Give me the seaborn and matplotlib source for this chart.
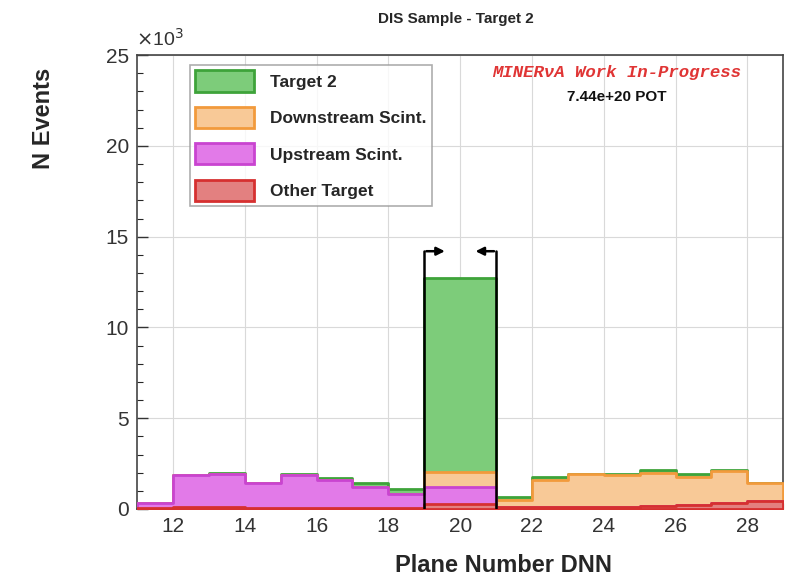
import numpy as np
import pandas as pd
import matplotlib
matplotlib.use("Agg")
import matplotlib.pyplot as plt
from matplotlib.patches import Patch
import seaborn as sns

# ---- data (thousands of events per plane bin) ----
plane_lo = [11, 12, 13, 14, 15, 16, 17, 18, 19, 20, 21, 22, 23, 24, 25, 26, 27, 28]
other_target = [0.05, 0.12, 0.12, 0.08, 0.08, 0.08, 0.06, 0.05, 0.25, 0.25, 0.12, 0.12, 0.12, 0.12, 0.15, 0.22, 0.35, 0.45]
upstream = [0.28, 1.75, 1.78, 1.35, 1.78, 1.52, 1.14, 0.77, 0.95, 0.95, 0.0, 0.0, 0.0, 0.0, 0.0, 0.0, 0.0, 0.0]
downstream = [0.0, 0.0, 0.04, 0.0, 0.0, 0.0, 0.0, 0.0, 0.85, 0.85, 0.38, 1.48, 1.78, 1.76, 1.85, 1.52, 1.72, 0.98]
target2 = [0.02, 0.02, 0.02, 0.02, 0.05, 0.1, 0.23, 0.28, 10.65, 10.65, 0.16, 0.16, 0.05, 0.05, 0.16, 0.16, 0.05, 0.02]

labels = ["Target 2", "Downstream Scint.", "Upstream Scint.", "Other Target"]
fills = ["#7dcc7a", "#f8c997", "#e27ae8", "#e38080"]
edges = ["#3ea33a", "#f29a3c", "#c944d0", "#d63030"]

sns.set_theme(style="white")
plt.rcParams["font.family"] = ["Liberation Sans", "DejaVu Sans"]

fig = plt.figure(figsize=(7.88, 5.81), dpi=100)
ax = fig.add_axes([0.174, 0.124, 0.820, 0.781])

x_centers = np.array(plane_lo) + 0.5
stack_bottom_up = [other_target, upstream, downstream, target2]
cums = np.cumsum(np.array(stack_bottom_up), axis=0)  # cumulative heights
order = [3, 2, 1, 0]
for k, ci in enumerate(order):
    li = 3 - ci
    df = pd.DataFrame({"plane": x_centers, "n": cums[ci]})
    sns.histplot(data=df, x="plane", weights="n", bins=18, binrange=(11, 29), element="step",
                 fill=True, facecolor=fills[li], edgecolor=edges[li], alpha=1,
                 linewidth=2.0, ax=ax, zorder=2 + k)

# arrows marking target region
top = 14.2
ax.plot([19, 19], [0, top], color="black", lw=1.8, zorder=10)
ax.plot([21, 21], [0, top], color="black", lw=1.8, zorder=10)
ax.annotate("", xy=(19.65, top), xytext=(18.98, top),
            arrowprops=dict(arrowstyle="-|>", color="black", lw=1.8, mutation_scale=12), zorder=10)
ax.annotate("", xy=(20.35, top), xytext=(21.02, top),
            arrowprops=dict(arrowstyle="-|>", color="black", lw=1.8, mutation_scale=12), zorder=10)

ax.set_xlim(11, 29)
ax.set_ylim(0, 25)
ax.set_xticks(np.arange(12, 29, 2))
ax.set_xticks(np.arange(11, 29.01, 0.5), minor=True)
ax.set_yticks(np.arange(0, 26, 5))
ax.set_yticks(np.arange(0, 25.01, 1), minor=True)
ax.tick_params(axis="both", which="major", direction="in", length=8, width=1, labelsize=15,
               colors="#333333", bottom=True, left=True, pad=6)
ax.tick_params(axis="both", which="minor", direction="in", length=4, width=0.8,
               bottom=True, left=True)
ax.grid(True, which="major", color="#d9d9d9", lw=0.8, zorder=0)
ax.set_axisbelow(True)
for s in ax.spines.values():
    s.set_visible(True)
    s.set_color("#444444")
    s.set_linewidth(1.2)
ax.set_xlabel("")
ax.set_ylabel("")

fig.text(0.172, 0.915, r"$\times$10$^{3}$", fontsize=14, color="#333333", ha="left", va="bottom")
fig.text(0.578, 0.968, "DIS Sample - Target 2", fontsize=11, fontweight="bold", ha="center", va="center")
fig.text(0.777, 0.0275, "Plane Number DNN", fontsize=17, fontweight="bold", ha="right", va="center")
fig.text(0.055, 0.797, "N Events", fontsize=17, fontweight="bold", rotation=90, ha="center", va="center")

fig.text(0.783, 0.876, "MINER\u03bdA Work In-Progress",
         fontsize=12.5, fontweight="bold", style="italic", color="#e03535",
         family=["Liberation Mono", "DejaVu Sans Mono"], ha="center", va="center")
fig.text(0.783, 0.833, "7.44e+20 POT", fontsize=11, fontweight="bold", color="#111111",
         ha="center", va="center")

handles = [Patch(facecolor=fills[i], edgecolor=edges[i], linewidth=2, label=labels[i]) for i in range(4)]
leg = ax.legend(handles=handles, loc="upper left", bbox_to_anchor=(0.082, 0.978),
                frameon=True, fancybox=False, prop={"weight": "bold", "size": 12.5},
                handlelength=3.4, handleheight=1.5, borderpad=0.3, labelspacing=0.88,
                handletextpad=0.9, borderaxespad=0)
leg.get_frame().set_edgecolor("#999999")
leg.get_frame().set_linewidth(1.2)
leg.set_zorder(20)

fig.savefig("out.png", dpi=100)
